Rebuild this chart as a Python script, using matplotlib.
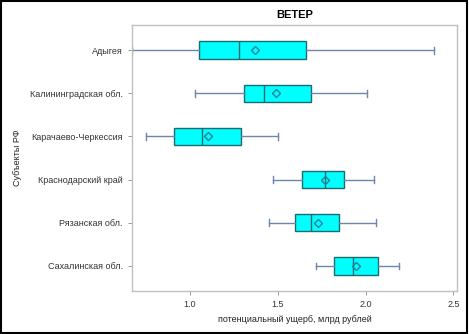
import matplotlib
matplotlib.use("Agg")
import matplotlib.pyplot as plt
from matplotlib.patches import Rectangle

plt.rcParams['font.family'] = ['Liberation Sans', 'DejaVu Sans']

# Субъекты РФ, сверху вниз
regions = ['Адыгея', 'Калининградская обл.', 'Карачаево-Черкессия',
           'Краснодарский край', 'Рязанская обл.', 'Сахалинская обл.']

# потенциальный ущерб, млрд рублей
whislo = [0.67, 1.03, 0.75, 1.47, 1.45, 1.72]
q1     = [1.05, 1.31, 0.91, 1.64, 1.60, 1.82]
med    = [1.28, 1.42, 1.07, 1.77, 1.69, 1.93]
mean   = [1.37, 1.49, 1.10, 1.77, 1.73, 1.945]
q3     = [1.66, 1.69, 1.29, 1.875, 1.85, 2.07]
whishi = [2.39, 2.01, 1.50, 2.05, 2.06, 2.19]

xticks = [1.0, 1.5, 2.0, 2.5]

stats = []
for i in range(len(regions)):
    stats.append({'label': regions[i], 'whislo': whislo[i], 'q1': q1[i], 'med': med[i],
                  'mean': mean[i], 'q3': q3[i], 'whishi': whishi[i], 'fliers': []})

fig = plt.figure(figsize=(4.69, 3.34), dpi=100)
ax = fig.add_axes([0.2814, 0.1287, 0.693, 0.7964])

box_edge = '#1d6b70'
whisk_col = '#7085aa'
ax.bxp(stats, positions=range(len(regions)), orientation='horizontal', widths=0.4,
       capwidths=0.16, showmeans=True, patch_artist=True,
       boxprops=dict(facecolor='#00ffff', edgecolor=box_edge, linewidth=1.0),
       medianprops=dict(color=box_edge, linewidth=1.0),
       whiskerprops=dict(color=whisk_col, linewidth=1.0),
       capprops=dict(color=whisk_col, linewidth=1.0),
       meanprops=dict(marker='D', markerfacecolor='none', markeredgecolor='#2a7f9a',
                      markersize=4.5, markeredgewidth=1.0))

ax.set_ylim(len(regions) - 0.42, -0.58)
ax.set_xlim(0.67, 2.52)
ax.set_xticks(xticks)
ax.set_xticklabels([f'{t:.1f}' for t in xticks])
ax.set_yticks(range(len(regions)))
ax.set_yticklabels(regions)
ax.tick_params(labelsize=6.5, colors='#333333', length=3, width=0.7)
ax.tick_params(axis='both', color='#999999')
for sp in ax.spines.values():
    sp.set_color('#c0c0c0')
    sp.set_linewidth(1.0)

ax.set_title('ВЕТЕР', fontsize=8, fontweight='bold', pad=5)
ax.set_xlabel('потенциальный ущерб, млрд рублей', fontsize=6.5, color='#222222', labelpad=4)
ax.set_ylabel('Субъекты РФ', fontsize=6.5, color='#222222', labelpad=6)

# black frame around the whole picture
fig.patches.append(Rectangle((0.002, 0.003), 0.993, 0.994, transform=fig.transFigure,
                             fill=False, edgecolor='black', linewidth=1.5))

fig.savefig('out.png', dpi=100)
